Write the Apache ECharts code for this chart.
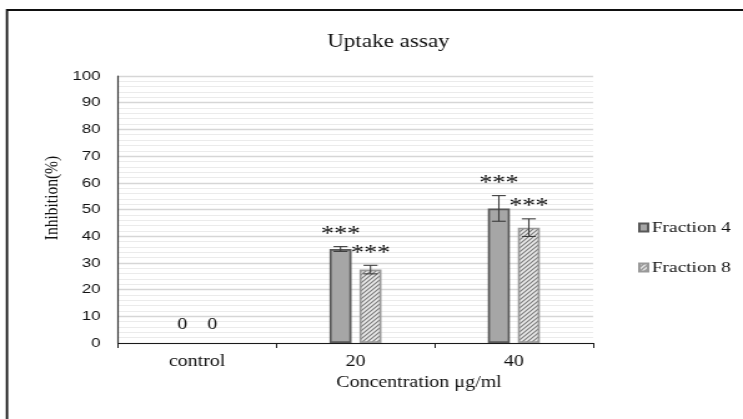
<!DOCTYPE html>
<html>
<head>
<meta charset="utf-8">
<script src="https://cdn.jsdelivr.net/npm/echarts@6/dist/echarts.min.js"></script>
<style>
  html, body { margin: 0; padding: 0; background: #fff; overflow: hidden; width: 743px; height: 419px; }
  /* The figure is laid out narrower and widened horizontally, like a stretched figure panel */
  #chart { width: 595px; height: 419px; transform: scaleX(1.2487); transform-origin: 0 0; }
</style>
</head>
<body>
<div id="chart"></div>
<script>
// Uptake assay: inhibition (%) by fraction and concentration
const categories = ['control', '20', '40'];
const seriesNames = ['Fraction 4', 'Fraction 8'];
const fraction4 = [0, 35.2, 50.4];
const fraction8 = [0, 27.5, 43.2];
const fraction4Err = [0, 0.9, 4.8];
const fraction8Err = [0, 1.6, 3.3];
const fraction4Sig = [null, '***', '***'];
const fraction8Sig = [null, '***', '***'];
const yTicks = [0, 10, 20, 30, 40, 50, 60, 70, 80, 90, 100];

const SERIF = '"Liberation Serif", "Times New Roman", serif';
const SANS = '"Liberation Sans", Arial, sans-serif';
const INK = '#111111';

const BAR_W = 17.6;
const BAR_GAP_PX = 6.4;
const HALF_STEP = (BAR_W + BAR_GAP_PX) / 2;

// diagonal hatch used for Fraction 8
function makeHatch() {
  const c = document.createElement('canvas');
  c.width = 4; c.height = 4;
  const g = c.getContext('2d');
  g.fillStyle = '#ededed';
  g.fillRect(0, 0, 4, 4);
  g.strokeStyle = '#7a7a7a';
  g.lineWidth = 1.2;
  g.beginPath();
  g.moveTo(-1, 5); g.lineTo(5, -1);
  g.moveTo(-1, 1); g.lineTo(1, -1);
  g.moveTo(3, 5); g.lineTo(5, 3);
  g.stroke();
  return c;
}
const hatch = { image: makeHatch(), repeat: 'repeat' };

// zero-height bars are drawn without an outline
function barData(values) {
  return values.map(v => (v === 0 ? { value: v, itemStyle: { borderWidth: 0 } } : v));
}

function errorSeries(name, values, errs, sigs, shift) {
  return {
    name: name,
    type: 'custom',
    z: 5,
    data: values.map((v, i) => [i, v, errs[i]]),
    renderItem: function (params, api) {
      const idx = api.value(0);
      const val = api.value(1);
      const err = api.value(2);
      const isStar = !!sigs[idx];
      const txt = sigs[idx] || String(values[idx]);
      const base = api.coord([idx, val]);
      const x = base[0] + shift;
      const children = [];
      let textY;
      if (err > 0) {
        const top = api.coord([idx, val + err])[1];
        const bot = api.coord([idx, val - err])[1];
        const cap = 5.6;
        const st = { stroke: '#3c3c3c', lineWidth: 1.1 };
        children.push(
          { type: 'line', shape: { x1: x, y1: top, x2: x, y2: bot }, style: st },
          { type: 'line', shape: { x1: x - cap, y1: top, x2: x + cap, y2: top }, style: st },
          { type: 'line', shape: { x1: x - cap, y1: bot, x2: x + cap, y2: bot }, style: st }
        );
        textY = top - 12;
      } else {
        textY = base[1] - 18;
      }
      children.push({
        type: 'text',
        style: {
          x: x, y: textY, text: txt,
          align: 'center', verticalAlign: 'middle',
          font: (isStar ? '21px ' : '16px ') + SERIF,
          fill: INK
        }
      });
      return { type: 'group', children: children };
    }
  };
}

const chart = echarts.init(document.getElementById('chart'));
chart.setOption({
  animation: false,
  backgroundColor: '#ffffff',
  title: {
    text: 'Uptake assay',
    left: 257, top: 28,
    textStyle: { fontFamily: SERIF, fontSize: 18.5, fontWeight: 'normal', color: INK }
  },
  legend: {
    orient: 'vertical',
    left: 506, top: 214,
    itemWidth: 7, itemHeight: 8, itemGap: 23,
    icon: 'rect',
    data: seriesNames,
    textStyle: { fontFamily: SERIF, fontSize: 15.5, color: INK, lineHeight: 17, padding: [0, 0, 0, -2] }
  },
  grid: { left: 94.5, right: 120.1, top: 76, bottom: 76 },
  xAxis: {
    type: 'category',
    data: categories,
    axisLine: { lineStyle: { color: '#1a1a1a', width: 1.2 } },
    axisTick: { show: true, length: 5, lineStyle: { color: '#1a1a1a' } },
    axisLabel: { fontFamily: SERIF, fontSize: 16, color: INK, margin: 11 },
    splitLine: { show: false }
  },
  yAxis: {
    type: 'value',
    min: yTicks[0], max: yTicks[yTicks.length - 1], interval: 10,
    axisLine: { show: true, lineStyle: { color: '#333', width: 1.2 } },
    axisTick: { show: false },
    axisLabel: { fontFamily: SANS, fontSize: 13.5, color: INK, margin: 14 },
    splitLine: { show: true, lineStyle: { color: '#d6d6d6', width: 1.3 } },
    minorTick: { show: false, splitNumber: 5 },
    minorSplitLine: { show: true, lineStyle: { color: '#ebebeb', width: 1.2 } }
  },
  graphic: [
    {
      type: 'rect', silent: true, z: 0,
      shape: { x: 5.6, y: 10, width: 700, height: 500 },
      style: { fill: 'none', stroke: '#111', lineWidth: 1.8 }
    },
    {
      type: 'text', silent: true,
      x: 42, y: 198, rotation: Math.PI / 2,
      style: {
        text: 'Inhibition(%)', align: 'center', verticalAlign: 'middle',
        font: '15.5px ' + SERIF, fill: INK
      }
    },
    {
      type: 'text', silent: true,
      x: 335.5, y: 383,
      style: {
        text: 'Concentration μg/ml', align: 'center', verticalAlign: 'middle',
        font: '16px ' + SERIF, fill: INK
      }
    }
  ],
  series: [
    {
      name: seriesNames[0], type: 'bar', data: barData(fraction4),
      barWidth: BAR_W, barGap: (BAR_GAP_PX / BAR_W * 100).toFixed(1) + '%',
      itemStyle: { color: '#a6a6a6', borderColor: '#585858', borderWidth: 1.7 }
    },
    {
      name: seriesNames[1], type: 'bar', data: barData(fraction8),
      barWidth: BAR_W,
      itemStyle: { color: hatch, borderColor: '#999999', borderWidth: 1.7 }
    },
    errorSeries('err4', fraction4, fraction4Err, fraction4Sig, -HALF_STEP),
    errorSeries('err8', fraction8, fraction8Err, fraction8Sig, HALF_STEP)
  ]
});
</script>
</body>
</html>
